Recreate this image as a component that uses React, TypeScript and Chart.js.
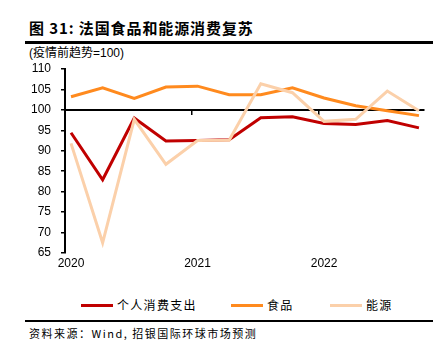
import React, { useEffect, useRef } from "react";
import { Chart, registerables } from "chart.js";

Chart.register(...registerables);

const quarters = ["2020Q1", "2020Q2", "2020Q3", "2020Q4", "2021Q1", "2021Q2", "2021Q3", "2021Q4", "2022Q1", "2022Q2", "2022Q3", "2022Q4"];
const pce = [94.4, 82.9, 98.0, 92.4, 92.5, 92.7, 98.1, 98.3, 96.7, 96.4, 97.4, 95.6];
const food = [103.2, 105.4, 102.8, 105.6, 105.8, 103.7, 103.7, 105.4, 102.9, 101.0, 99.8, 98.6];
const energy = [91.8, 67.5, 97.7, 86.7, 92.5, 92.6, 106.4, 104.2, 97.2, 97.7, 104.6, 99.8];
const yearTickIndex = [0, 4, 8];
const yearLabels = ["2020", "2021", "2022"];
const yearMarkIndex = [3.83, 7.83];

const seriesNames = ["个人消费支出", "食品", "能源"];
const seriesColors = ["#C00000", "#FF8A1E", "#FBD0AA"];

const FONT = '"Liberation Sans", Arial, "Noto Sans CJK SC", sans-serif';
const CJK = '"Noto Sans CJK SC", "Liberation Sans", sans-serif';

export default function App() {
  const ref = useRef<HTMLCanvasElement | null>(null);

  useEffect(() => {
    if (!ref.current) return;
    const toPts = (arr: number[]) => arr.map((v, i) => ({ x: i, y: v }));
    const series = [pce, food, energy];
    const chart = new Chart(ref.current, {
      type: "line",
      data: {
        labels: quarters,
        datasets: series.map((s, k) => ({
          label: seriesNames[k],
          data: toPts(s),
          borderColor: seriesColors[k],
          backgroundColor: seriesColors[k],
          borderWidth: 3,
          pointRadius: 0,
          tension: 0,
          fill: false,
          xAxisID: "x",
          yAxisID: "y",
          order: 3 - k,
        })),
      },
      options: {
        responsive: false,
        animation: false,
        layout: { padding: { left: 0, right: 21, top: 69, bottom: 17 } },
        plugins: { legend: { display: false }, tooltip: { enabled: false } },
        scales: {
          x: {
            type: "linear",
            axis: "x",
            min: -0.19,
            max: 11.16,
            position: "bottom",
            border: { display: false },
            grid: { display: false, drawTicks: false },
            ticks: {
              padding: 3,
              color: "#000",
              font: { family: FONT, size: 12 },
              callback: (v: any) => {
                const idx = yearTickIndex.indexOf(Number(v));
                return idx >= 0 ? yearLabels[idx] : "";
              },
            },
            afterBuildTicks: (s: any) => {
              s.ticks = yearTickIndex.map((v) => ({ value: v }));
            },
            afterFit: (s: any) => {
              s.height = 20;
            },
          },
          xline: {
            type: "linear",
            axis: "x",
            min: -0.19,
            max: 11.16,
            position: { y: 100 },
            border: { display: true, color: "#000", width: 2 },
            grid: { drawOnChartArea: false, drawTicks: true, tickLength: 4, color: "#000", lineWidth: 1.5 },
            ticks: { display: false },
            afterBuildTicks: (s: any) => {
              s.ticks = yearMarkIndex.map((v) => ({ value: v }));
            },
          },
          y: {
            type: "linear",
            min: 65,
            max: 110,
            position: "left",
            border: { display: true, color: "#000", width: 2 },
            grid: { drawOnChartArea: false, drawTicks: true, tickLength: 4, color: "#000", lineWidth: 1.5 },
            ticks: { stepSize: 5, padding: 10, color: "#000", font: { family: FONT, size: 12 } },
            afterFit: (s: any) => {
              s.width = 65;
            },
          },
        } as any,
      },
    });
    return () => chart.destroy();
  }, []);

  const legendLeft = [81, 231, 330];

  return (
    <div style={{ position: "fixed", left: 0, top: 0, width: 445, height: 361, background: "#fff", overflow: "hidden" }}>
      <div style={{ position: "absolute", left: 29, top: 20, fontFamily: CJK, fontWeight: 700, fontSize: 15, lineHeight: "15px", color: "#000", whiteSpace: "nowrap", letterSpacing: 0.9 }}>
        图 31: 法国食品和能源消费复苏
      </div>
      <div style={{ position: "absolute", left: 25, top: 41, width: 408, height: 2.5, background: "#000" }} />
      <div style={{ position: "absolute", left: 29, top: 46.5, fontFamily: FONT, fontSize: 12, lineHeight: "12px", color: "#000", whiteSpace: "nowrap" }}>
        (疫情前趋势=100)
      </div>
      <canvas ref={ref} width={445} height={290} style={{ position: "absolute", left: 0, top: 0, width: 445, height: 290 }} />
      {seriesNames.map((n, k) => (
        <div key={n} style={{ position: "absolute", left: legendLeft[k], top: 298, height: 14, display: "flex", alignItems: "center", whiteSpace: "nowrap" }}>
          <div style={{ width: 32, height: 3, background: seriesColors[k] }} />
          <span style={{ marginLeft: 4, fontFamily: CJK, fontSize: 12, lineHeight: "14px", letterSpacing: 1.3, color: "#000" }}>{n}</span>
        </div>
      ))}
      <div style={{ position: "absolute", left: 25, top: 319.5, width: 408, height: 2, background: "#000" }} />
      <div style={{ position: "absolute", left: 29, top: 327.5, fontFamily: CJK, fontSize: 11, lineHeight: "11px", letterSpacing: 1.5, color: "#000", whiteSpace: "nowrap" }}>
        资料来源：Wind, 招银国际环球市场预测
      </div>
    </div>
  );
}
